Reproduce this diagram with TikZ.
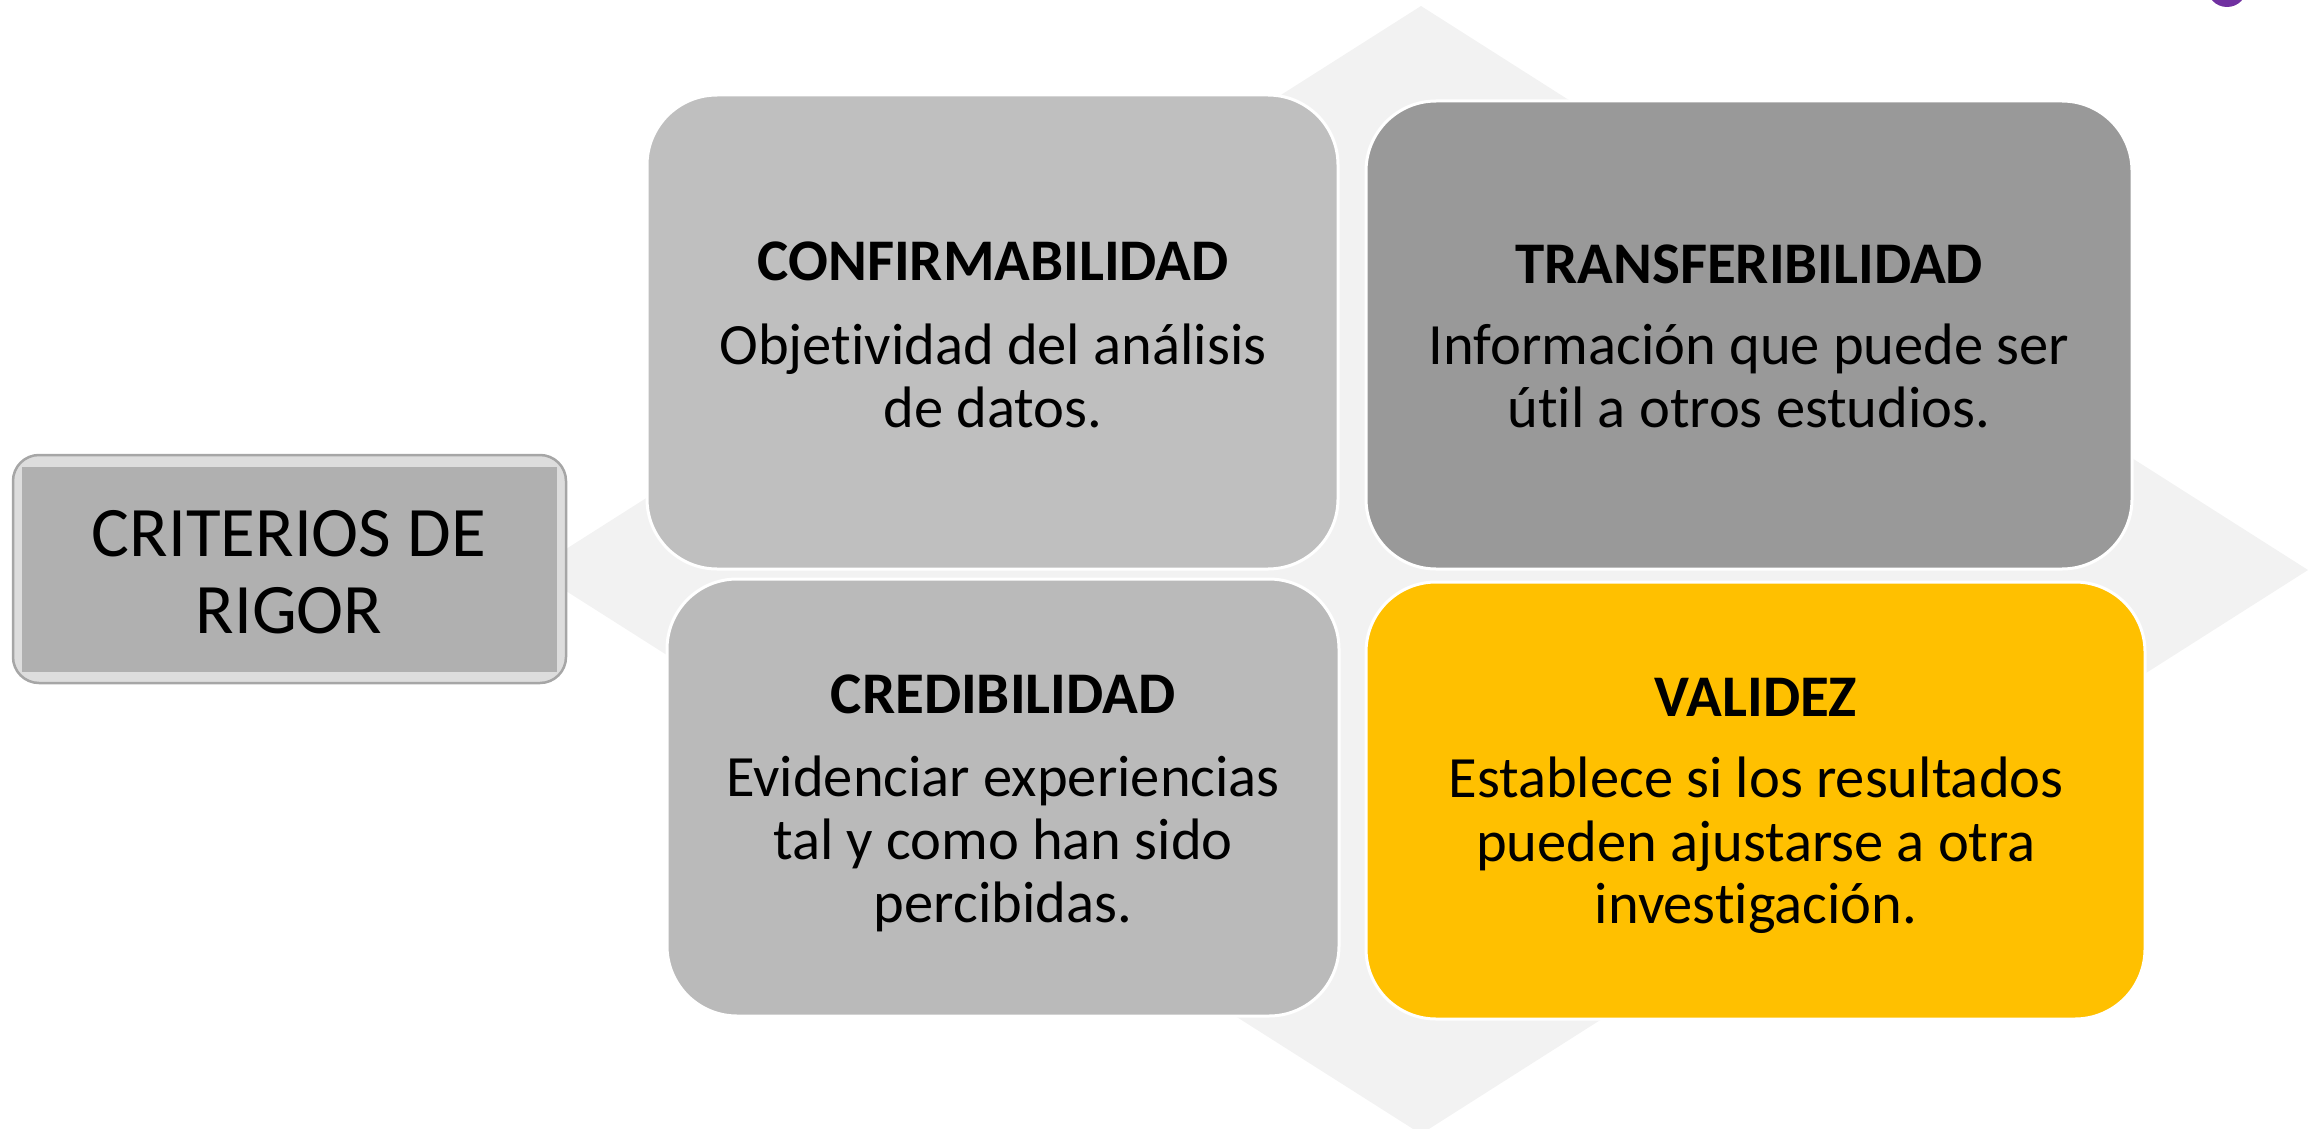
\documentclass[tikz,border=0pt]{standalone}
\usepackage{fontspec}
\setmainfont{Carlito}[Ligatures=NoCommon]
\definecolor{diamondc}{HTML}{F2F2F2}
\definecolor{purplec}{HTML}{7030A0}
\definecolor{confc}{HTML}{BFBFBF}
\definecolor{transc}{HTML}{999999}
\definecolor{credc}{HTML}{BABABA}
\definecolor{valc}{HTML}{FFC000}
\definecolor{critout}{HTML}{DDDDDD}
\definecolor{critline}{HTML}{A6A6A6}
\definecolor{critin}{HTML}{B0B0B0}
\tikzset{
  card/.style={draw=white, line width=3pt, rounded corners=70pt, inner sep=0pt},
  titletext/.style={anchor=base, inner sep=0pt, font=\fontsize{59}{62}\selectfont\bfseries},
  bodytext/.style={anchor=base, inner sep=0pt, font=\fontsize{58.5}{62}\selectfont},
  crittext/.style={anchor=base, inner sep=0pt, font=\fontsize{71}{77}\selectfont}
}
\begin{document}
\begin{tikzpicture}[x=1pt,y=-1pt]
\useasboundingbox (0,0) rectangle (2323,1129);
\clip (0,0) rectangle (2323,1129);
% background diamond
\fill[diamondc] (1421,6) -- (2308,570) -- (1421,1134) -- (533,570) -- cycle;
% purple circle at top right
\fill[purplec] (2227,-13) circle (20);
% cards
\node[card, fill=confc, minimum width=691pt, minimum height=474pt] (conf) at (992.5,332) {};
\node[card, fill=transc, minimum width=766pt, minimum height=468pt] (trans) at (1749,335) {};
\node[card, fill=credc, minimum width=672pt, minimum height=437pt] (cred) at (1003,797.5) {};
\node[card, fill=valc, minimum width=779pt, minimum height=437pt] (val) at (1755.5,800.5) {};
% criterios box
\node[draw=critline, fill=critout, line width=2.5pt, rounded corners=26pt, minimum width=553pt, minimum height=228pt, inner sep=0pt] (crit) at (289.5,569) {};
\node[fill=critin, minimum width=535pt, minimum height=205pt, inner sep=0pt] (critinner) at (289.5,569.5) {};
% texts
\node[crittext] (c1) at (289,556) {CRITERIOS DE};
\node[crittext] (c2) at (289,633) {RIGOR};

\node[titletext] (t1) at (993,280) {CONFIRMABILIDAD};
\node[bodytext] (b1a) at (993,364) {Objetividad del análisis};
\node[bodytext] (b1b) at (993,427) {de datos.};

\node[titletext] (t2) at (1749,283) {TRANSFERIBILIDAD};
\node[bodytext] (b2a) at (1749,364) {Información que puede ser};
\node[bodytext] (b2b) at (1749,427) {útil a otros estudios.};

\node[titletext] (t3) at (1003,713) {CREDIBILIDAD};
\node[bodytext] (b3a) at (1003,796) {Evidenciar experiencias};
\node[bodytext] (b3b) at (1003,859) {tal y como han sido};
\node[bodytext] (b3c) at (1003,922) {percibidas.};

\node[titletext] (t4) at (1756,716) {VALIDEZ};
\node[bodytext] (b4a) at (1756,797) {Establece si los resultados};
\node[bodytext] (b4b) at (1756,861) {pueden ajustarse a otra};
\node[bodytext] (b4c) at (1756,923) {investigación.};
\end{tikzpicture}
\end{document}
